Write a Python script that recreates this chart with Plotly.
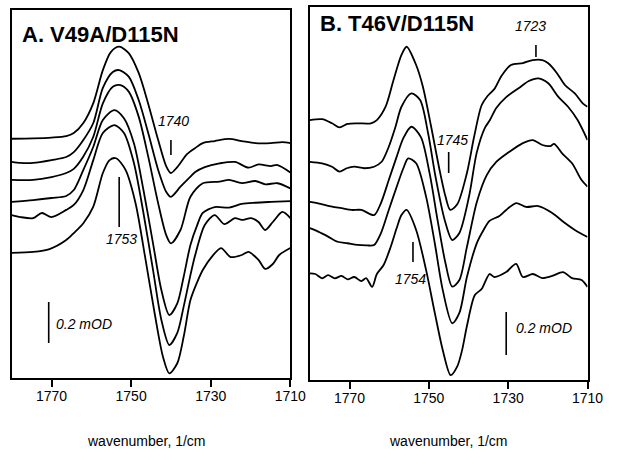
import plotly.graph_objects as go

# ---- Panel A: V49A/D115N difference spectra (wavenumber in 1/cm, absorbance in mOD, offset stacked) ----
a1_wn = [1780, 1774.6, 1770.0, 1766.3, 1764.4, 1762.0, 1759.5, 1757.1, 1755.1, 1753.0, 1750.6, 1748.1,
         1745.7, 1743.2, 1741.2, 1740.0, 1738.4, 1735.9, 1733.9, 1732.0, 1729.0, 1725.4, 1722.2, 1718.8,
         1714.9, 1712.0, 1710]
a1_od = [1.167, 1.169, 1.173, 1.180, 1.195, 1.244, 1.341, 1.502, 1.590, 1.616, 1.585, 1.488,
         1.337, 1.161, 1.034, 1.000, 1.029, 1.093, 1.122, 1.146, 1.156, 1.166, 1.156, 1.146,
         1.146, 1.151, 1.146]

a2_wn = [1780, 1777.8, 1774.6, 1770.0, 1766.3, 1764.4, 1762.0, 1759.5, 1757.1, 1754.6, 1753.0, 1750.6,
         1748.1, 1745.7, 1743.2, 1741.2, 1740.0, 1737.6, 1735.1, 1733.9, 1731.5, 1727.8, 1723.9, 1720.5,
         1718.0, 1714.9, 1713.2, 1710]
a2_od = [1.054, 1.049, 1.049, 1.063, 1.078, 1.102, 1.161, 1.244, 1.415, 1.493, 1.502, 1.470,
         1.356, 1.195, 1.015, 0.909, 0.884, 0.933, 0.982, 1.005, 1.029, 1.047, 1.054, 1.026,
         1.042, 1.034, 1.039, 1.003]

a3_wn = [1780, 1774.6, 1770.0, 1766.3, 1764.4, 1762.0, 1759.5, 1757.1, 1754.6, 1752.7, 1750.6, 1748.1,
         1745.7, 1743.2, 1741.2, 1740.0, 1737.6, 1735.1, 1732.0, 1727.8, 1725.4, 1722.2, 1718.8, 1716.3,
         1713.2, 1710]
a3_od = [0.966, 0.966, 0.980, 1.000, 1.020, 1.080, 1.177, 1.340, 1.421, 1.429, 1.397, 1.275,
         1.080, 0.852, 0.698, 0.657, 0.722, 0.884, 0.950, 0.958, 0.966, 0.951, 0.961, 0.945,
         0.950, 0.925]

a4_wn = [1780, 1774.6, 1770.0, 1766.3, 1764.4, 1762.0, 1759.5, 1757.1, 1754.2, 1751.8, 1749.3, 1746.9,
         1744.5, 1742.4, 1740.4, 1738.4, 1736.8, 1735.1, 1733.4, 1732.0, 1729.0, 1725.4, 1722.2, 1718.8,
         1714.9, 1710]
a4_od = [0.859, 0.868, 0.878, 0.888, 0.917, 1.015, 1.128, 1.259, 1.307, 1.267, 1.145, 0.917,
         0.657, 0.429, 0.307, 0.364, 0.494, 0.649, 0.746, 0.805, 0.834, 0.831, 0.849, 0.855,
         0.859, 0.863]

a5_wn = [1780, 1777.8, 1774.6, 1772.4, 1770.0, 1766.3, 1764.4, 1762.0, 1759.5, 1757.1, 1754.2, 1751.8,
         1749.3, 1746.9, 1744.5, 1742.4, 1740.4, 1738.4, 1736.8, 1735.1, 1733.9, 1731.5, 1729.0, 1726.6,
         1723.9, 1722.2, 1719.8, 1718.0, 1716.3, 1714.4, 1712.0, 1710]
a5_od = [0.795, 0.785, 0.780, 0.805, 0.785, 0.820, 0.844, 0.917, 1.063, 1.195, 1.234, 1.195,
         1.049, 0.805, 0.527, 0.283, 0.161, 0.220, 0.348, 0.502, 0.600, 0.746, 0.795, 0.751,
         0.780, 0.771, 0.780, 0.761, 0.722, 0.761, 0.810, 0.780]

a6_wn = [1780, 1774.6, 1770.5, 1766.3, 1764.4, 1762.0, 1759.5, 1757.1, 1755.4, 1753.8, 1751.4, 1748.9,
         1746.5, 1744.1, 1742.0, 1740.4, 1738.4, 1736.8, 1735.1, 1733.4, 1732.0, 1729.8, 1727.4, 1725.0,
         1722.2, 1720.5, 1718.0, 1716.3, 1714.4, 1712.8, 1710]
a6_od = [0.610, 0.615, 0.629, 0.673, 0.707, 0.755, 0.836, 1.000, 1.063, 1.072, 1.015, 0.854,
         0.592, 0.317, 0.104, 0.023, 0.072, 0.201, 0.380, 0.468, 0.527, 0.590, 0.634, 0.590,
         0.600, 0.615, 0.576, 0.532, 0.556, 0.600, 0.634]

# ---- Panel B: T46V/D115N difference spectra ----
b1_wn = [1780, 1776.9, 1774.4, 1772.5, 1770.5, 1768.0, 1764.6, 1763.1, 1760.9, 1758.9, 1756.9, 1755.6,
         1753.2, 1751.5, 1749.5, 1747.3, 1745.8, 1744.6, 1742.8, 1740.4, 1738.6, 1736.7, 1735.2, 1733.5,
         1731.7, 1729.3, 1726.3, 1723.8, 1721.4, 1719.9, 1717.7, 1715.7, 1713.2, 1711.2, 1710]
b1_od = [1.209, 1.213, 1.194, 1.175, 1.191, 1.194, 1.194, 1.209, 1.271, 1.395, 1.512, 1.550,
         1.465, 1.364, 1.186, 0.977, 0.853, 0.791, 0.819, 0.963, 1.130, 1.278, 1.321, 1.353,
         1.414, 1.465, 1.474, 1.488, 1.488, 1.473, 1.427, 1.372, 1.333, 1.287, 1.271]

b2_wn = [1780, 1776.9, 1774.4, 1772.5, 1770.7, 1768.8, 1766.3, 1763.8, 1761.9, 1760.1, 1758.4, 1756.9,
         1754.4, 1752.2, 1750.2, 1748.3, 1746.0, 1744.1, 1742.3, 1739.9, 1737.9, 1735.9, 1734.6, 1733.0,
         1730.5, 1727.3, 1724.8, 1722.4, 1719.9, 1717.4, 1714.9, 1712.5, 1710]
b2_od = [1.015, 1.008, 0.992, 0.969, 0.985, 0.992, 0.985, 0.992, 1.015, 1.085, 1.178, 1.271,
         1.333, 1.302, 1.149, 0.944, 0.744, 0.651, 0.684, 0.851, 1.060, 1.172, 1.209, 1.265,
         1.316, 1.358, 1.391, 1.403, 1.380, 1.318, 1.271, 1.209, 1.116]

b3_wn = [1780, 1777.9, 1774.4, 1772.0, 1769.5, 1767.0, 1763.8, 1762.1, 1760.1, 1758.1, 1756.4, 1754.4,
         1752.0, 1749.8, 1747.8, 1745.8, 1744.1, 1742.3, 1740.4, 1737.9, 1735.4, 1733.0, 1729.8, 1726.3,
         1723.8, 1721.4, 1719.4, 1718.4, 1716.4, 1713.9, 1711.5, 1710]
b3_od = [0.829, 0.822, 0.806, 0.799, 0.791, 0.791, 0.767, 0.822, 0.930, 1.039, 1.126, 1.178,
         1.130, 0.961, 0.744, 0.543, 0.434, 0.465, 0.619, 0.828, 0.953, 1.014, 1.060, 1.102,
         1.116, 1.093, 1.088, 1.098, 1.054, 1.008, 0.930, 0.899]

b4_wn = [1780, 1777.9, 1775.4, 1773.0, 1770.5, 1768.0, 1765.6, 1763.8, 1762.1, 1760.1, 1758.1, 1756.4,
         1755.2, 1753.2, 1750.7, 1748.5, 1746.5, 1744.1, 1742.3, 1740.4, 1737.9, 1736.2, 1734.7, 1732.2,
         1730.5, 1728.0, 1725.5, 1722.4, 1718.9, 1715.7, 1713.2, 1710]
b4_od = [0.706, 0.690, 0.667, 0.643, 0.636, 0.628, 0.626, 0.628, 0.682, 0.791, 0.899, 0.986,
         1.031, 1.008, 0.853, 0.636, 0.419, 0.264, 0.312, 0.479, 0.637, 0.698, 0.740, 0.763,
         0.791, 0.823, 0.805, 0.809, 0.777, 0.730, 0.698, 0.665]

b5_wn = [1780, 1778.6, 1776.9, 1775.4, 1773.7, 1772.0, 1770.5, 1768.8, 1767.0, 1765.8, 1764.3, 1763.1,
         1761.4, 1759.6, 1758.1, 1756.9, 1755.6, 1753.2, 1750.7, 1748.5, 1746.5, 1744.5, 1742.8, 1741.6,
         1740.4, 1738.4, 1736.7, 1734.7, 1733.5, 1730.5, 1728.0, 1726.3, 1723.8, 1721.4, 1718.9, 1716.2,
         1713.9, 1711.5, 1710]
b5_od = [0.496, 0.493, 0.473, 0.488, 0.473, 0.484, 0.468, 0.479, 0.460, 0.474, 0.433, 0.493,
         0.535, 0.620, 0.707, 0.767, 0.791, 0.698, 0.512, 0.312, 0.140, 0.023, 0.065, 0.140,
         0.251, 0.395, 0.423, 0.493, 0.479, 0.502, 0.540, 0.479, 0.493, 0.474, 0.484, 0.502,
         0.474, 0.465, 0.433]

panel_a = [(a1_wn, a1_od), (a2_wn, a2_od), (a3_wn, a3_od), (a4_wn, a4_od), (a5_wn, a5_od), (a6_wn, a6_od)]
panel_b = [(b1_wn, b1_od), (b2_wn, b2_od), (b3_wn, b3_od), (b4_wn, b4_od), (b5_wn, b5_od)]

tick_vals = [1770, 1750, 1730, 1710]
tick_text = ["1770", "1750", "1730", "1710"]
titles = ["A. V49A/D115N", "B. T46V/D115N"]
x_title = "wavenumber, 1/cm"
scale_text = "0.2 mOD"
scale_size = 0.2  # mOD

# labelled band positions: (wavenumber, marker bottom, marker top, label y) per panel
bands_a = [(1740, 1.088, 1.161, 1.254), (1753, 0.737, 0.980, 0.678)]
bands_b = [(1745, 0.963, 1.060, 1.116), (1754, 0.549, 0.642, 0.470), (1723, 1.502, 1.558, 1.647)]

FONT = "Liberation Sans, Arial, Helvetica, sans-serif"
W, H = 623, 450

fig = go.Figure()
for wn, od in panel_a:
    fig.add_trace(go.Scatter(x=wn, y=od, mode="lines", xaxis="x", yaxis="y",
                             line=dict(color="black", width=1.8, shape="spline", smoothing=0.8),
                             showlegend=False, hoverinfo="skip"))
for wn, od in panel_b:
    fig.add_trace(go.Scatter(x=wn, y=od, mode="lines", xaxis="x2", yaxis="y2",
                             line=dict(color="black", width=1.8, shape="spline", smoothing=0.8),
                             showlegend=False, hoverinfo="skip"))

axis_common = dict(range=[1780, 1710], tickvals=tick_vals, ticktext=tick_text, ticks="outside",
                   ticklen=7, tickwidth=1.5, tickcolor="black", showline=True, mirror=True,
                   linecolor="black", linewidth=1.7, showgrid=False, zeroline=False,
                   ticklabelstandoff=-3,
                   tickfont=dict(family=FONT, size=14, color="black"))
yaxis_common = dict(showticklabels=False, ticks="", showline=True, mirror=True, linecolor="black",
                    linewidth=1.7, showgrid=False, zeroline=False)

fig.update_layout(
    width=W, height=H, margin=dict(l=0, r=0, t=0, b=0),
    paper_bgcolor="white", plot_bgcolor="white",
    xaxis=dict(domain=[12 / W, 298 / W], anchor="y", **axis_common),
    yaxis=dict(domain=[1 - 378 / H, 1 - 10 / H], range=[0, 368 / 205], anchor="x", **yaxis_common),
    xaxis2=dict(domain=[318 / W, 603 / W], anchor="y2", **axis_common),
    yaxis2=dict(domain=[1 - 380 / H, 1 - 7 / H], range=[0, 373 / 215], anchor="x2", **yaxis_common),
)

shapes = []
annotations = []

# panel titles
annotations.append(dict(text="<b>" + titles[0] + "</b>", xref="paper", yref="paper",
                        x=21 / W, y=1 - 34 / H, xanchor="left", yanchor="middle", showarrow=False,
                        font=dict(family=FONT, size=22, color="black")))
annotations.append(dict(text="<b>" + titles[1] + "</b>", xref="paper", yref="paper",
                        x=326 / W, y=1 - 23 / H, xanchor="left", yanchor="middle", showarrow=False,
                        font=dict(family=FONT, size=22, color="black")))

# axis titles
for cx in (150, 460):
    annotations.append(dict(text=x_title, xref="paper", yref="paper", x=cx / W, y=1 - 441 / H,
                            xanchor="center", yanchor="middle", showarrow=False,
                            font=dict(family=FONT, size=14, color="black")))

# band markers and italic labels
label_x_a = {1740: 1739.3, 1753: 1752.4}
label_x_b = {1745: 1744.1, 1754: 1754.7, 1723: 1724.3}
for (wn, y0, y1, ly), xr, yr, lx in [(b, "x", "y", label_x_a[b[0]]) for b in bands_a] + \
                                   [(b, "x2", "y2", label_x_b[b[0]]) for b in bands_b]:
    shapes.append(dict(type="line", xref=xr, yref=yr, x0=wn, x1=wn, y0=y0, y1=y1,
                       line=dict(color="black", width=1.6)))
    annotations.append(dict(text="<i>%d</i>" % wn, xref=xr, yref=yr, x=lx, y=ly,
                            xanchor="center", yanchor="middle", showarrow=False,
                            font=dict(family=FONT, size=14, color="black")))

# 0.2 mOD scale bars
for xr, yr, bx, by0, tx, ty in [("x", "y", 1770.7, 0.171, 1769.3, 0.263),
                                ("x2", "y2", 1730.5, 0.116, 1728.5, 0.242)]:
    shapes.append(dict(type="line", xref=xr, yref=yr, x0=bx, x1=bx, y0=by0, y1=by0 + scale_size,
                       line=dict(color="black", width=1.6)))
    annotations.append(dict(text="<i>" + scale_text + "</i>", xref=xr, yref=yr, x=tx, y=ty,
                            xanchor="left", yanchor="middle", showarrow=False,
                            font=dict(family=FONT, size=14, color="black")))

fig.update_layout(shapes=shapes, annotations=annotations)
fig.write_html("out.html")
